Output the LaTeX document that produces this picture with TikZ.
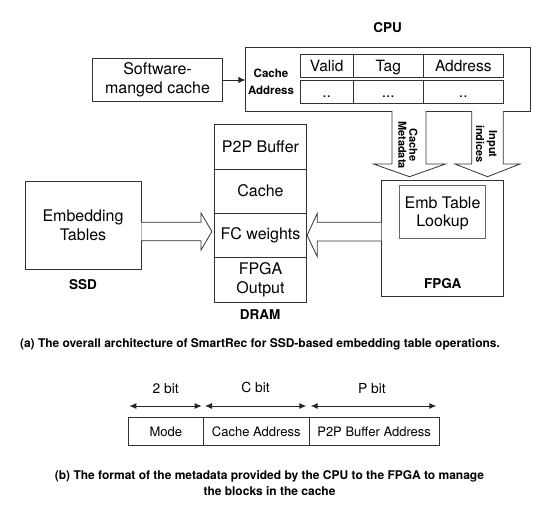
\documentclass[tikz,border=0pt]{standalone}
\usepackage{fontspec}
\setmainfont{TeX Gyre Heros}
\usetikzlibrary{arrows.meta,calc}
\begin{document}
\begin{tikzpicture}[x=1pt,y=-1pt,
  bx/.style={draw=black!80, line width=0.8pt, inner sep=0pt, align=center,
             font=\fontsize{16}{18.5}\selectfont},
  cell/.style={draw=black!80, line width=0.8pt, inner sep=0pt, align=center,
             font=\fontsize{15.5}{17}\selectfont, text height=11pt, text depth=0pt,
             minimum height=23pt},
  fcell/.style={draw=black!80, line width=0.8pt, inner sep=0pt, align=center,
             font=\fontsize{13}{15}\selectfont, text height=9.4pt, text depth=0pt,
             minimum height=28.4pt},
  bl/.style={font=\bfseries\fontsize{13.5}{16}\selectfont, inner sep=0pt},
  captxt/.style={font=\bfseries\fontsize{12}{15.7}\selectfont, inner sep=0pt, align=center},
  blk/.style={draw=black!80, line width=0.8pt, fill=white, line join=miter},
  arr/.style={draw=black!85, line width=0.9pt, -{Latex[length=7pt,width=6.5pt]}},
  dbl/.style={draw=black!85, line width=0.9pt, {Latex[length=7pt,width=6pt]}-{Latex[length=7pt,width=6pt]}},
  vtxt/.style={rotate=-90, align=center, inner sep=0pt}
]
\useasboundingbox (0,0) rectangle (538,514);

% ---------- CPU ----------
\node[bl] (cpulbl) at (387.5,28) {CPU};
\node[bx, minimum width=284.3pt, minimum height=63.5pt] (cpu) at (387.9,79.2) {};
\node[font=\bfseries\fontsize{11.5}{16.5}\selectfont, align=center, inner sep=0pt]
  (calbl) at (271,81.7) {Cache\\Address};
\node[cell, minimum width=53.3pt] (valid) at (326.65,65.8) {Valid};
\node[cell, minimum width=70pt]   (tag)   at (388.3,65.8) {Tag};
\node[cell, minimum width=80pt]   (addr)  at (463.3,65.8) {Address};
\node[cell, minimum width=53.3pt] (d1) at (326.65,91.7) {..};
\node[cell, minimum width=70pt]   (d2) at (388.3,91.7) {...};
\node[cell, minimum width=80pt]   (d3) at (463.3,91.7) {..};

% ---------- software-managed cache ----------
\node[bx, minimum width=129.3pt, minimum height=43.4pt] (sw) at (157.5,80)
  {Software-\\manged cache};
\draw[arr] (sw.east) -- (sw.east -| cpu.west);

% ---------- DRAM ----------
\node[bx, minimum width=92.4pt, minimum height=45pt]   (p2p)  at (260.5,146.5) {P2P Buffer};
\node[bx, minimum width=92.4pt, minimum height=44.3pt] (cch)  at (260.5,191.15) {Cache};
\node[bx, minimum width=92.4pt, minimum height=44pt]   (fc)   at (260.5,235.3) {FC weights};
\node[bx, minimum width=92.4pt, minimum height=44.7pt] (fout) at (260.5,279.65) {FPGA\\Output};
\node[bl] (dramlbl) at (260,315) {DRAM};

% ---------- SSD ----------
\node[bx, minimum width=116pt, minimum height=87.3pt] (ssd) at (83,225.3)
  {Embedding\\Tables};
\node[bl] (ssdlbl) at (83,285) {SSD};

% ---------- FPGA ----------
\node[bx, minimum width=121.6pt, minimum height=116.7pt] (fpga) at (442.5,238.3) {};
\node[bx, draw=black!60, minimum width=86.4pt, minimum height=53.3pt, text depth=0pt]
  (emb) at (442.5,211.7) {Emb Table\\Lookup};
\node[bl] (fpgalbl) at (442.7,283.3) {FPGA};

% ---------- block arrows ----------
\draw[blk] ($(ssd.east)+(0,-3)$) -- (201,222.3) -- (201,213)
  -- ($(fc.west)+(-2,-3.8)$) -- (201,250) -- (201,240.7) -- ($(ssd.east)+(0,15.4)$);
\draw[blk] ($(fpga.west)+(0,-16)$) -- (317.3,222.3) -- (317.3,213.3)
  -- (fc.east) -- (317.3,256.7) -- (317.3,241) -- ($(fpga.west)+(0,2.7)$);

\draw[blk] (392,111) -- (392,164) -- (373.5,164) -- (409.5,176.7)
  -- (445.5,164) -- (426,164) -- (426,111);
\draw[blk] (471.7,111) -- (471.7,164) -- (455,164) -- (487.5,176.7)
  -- (520,164) -- (503.3,164) -- (503.3,111);
\node[vtxt, font=\bfseries\fontsize{11}{11}\selectfont] (cmtxt) at (407.8,145) {Cache\\Metadata};
\node[vtxt, font=\bfseries\fontsize{11}{13}\selectfont] (iitxt) at (486.7,144) {Input\\indices};

% ---------- caption (a) ----------
\node[captxt] (capa) at (260,344)
  {(a) The overall architecture of SmartRec for SSD-based embedding table operations.};

% ---------- metadata format ----------
\node[fcell, minimum width=75pt]    (mode) at (165.8,431.5) {Mode};
\node[fcell, minimum width=106pt]   (caddr) at (256.3,431.5) {Cache Address};
\node[fcell, minimum width=129.7pt] (paddr) at (374.15,431.5) {P2P Buffer Address};
\coordinate (m1) at (129.3,406);
\coordinate (m2) at (201.7,406);
\coordinate (m3) at (205,406);
\coordinate (m4) at (306.3,406);
\coordinate (m5) at (310.7,406);
\coordinate (m6) at (436.3,406);
\draw[dbl] (m1) -- (m2);
\draw[dbl] (m3) -- (m4);
\draw[dbl] (m5) -- (m6);
\node[font=\fontsize{13.8}{16}\selectfont, inner sep=0pt] (b2) at (165.7,389) {2 bit};
\node[font=\fontsize{13.8}{16}\selectfont, inner sep=0pt] (bc) at (255.5,387.5) {C bit};
\node[font=\fontsize{13.8}{16}\selectfont, inner sep=0pt] (bp) at (372,389) {P bit};

% ---------- caption (b) ----------
\node[captxt] (capb) at (269.5,482.8)
  {(b) The format of the metadata provided by the CPU to the FPGA to manage\\the blocks in the cache};
\end{tikzpicture}
\end{document}
